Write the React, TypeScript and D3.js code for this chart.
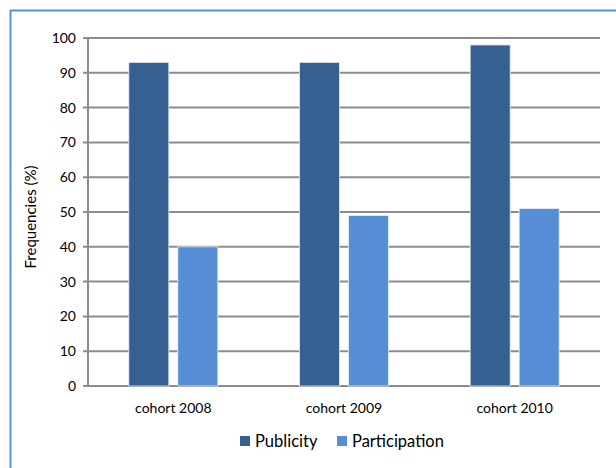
import React from "react";
import * as d3 from "d3";

const categories = ["cohort 2008", "cohort 2009", "cohort 2010"];
const publicity = [93, 93, 98];
const participation = [40, 49, 51];
const seriesNames = ["Publicity", "Participation"];
const yTicks = [0, 10, 20, 30, 40, 50, 60, 70, 80, 90, 100];

const colors = ["#366092", "#558ed5"];
const FONT = "Lato, 'Open Sans', sans-serif";

export default function App() {
  const W = 616, H = 468;
  const left = 88, right = 600, top = 38, bottom = 386;
  const x = d3.scaleBand<string>().domain(categories).range([left, right]).paddingInner(0).paddingOuter(0);
  const y = d3.scaleLinear().domain([0, 100]).range([bottom, top]);
  const barW = 40, gap = 9;
  const series = [publicity, participation];
  return (
    <svg width={W} height={H} style={{ position: "absolute", left: 0, top: 0 }}>
      <rect x={0} y={0} width={W} height={H} fill="#fff" />
      <line x1={10.5} y1={10} x2={10.5} y2={H} stroke="#4f97d6" strokeWidth={2} />
      <line x1={10} y1={10.5} x2={W} y2={10.5} stroke="#4f97d6" strokeWidth={2} />
      {yTicks.map((t) => (
        <g key={t}>
          <line x1={left - 5} x2={right} y1={y(t)} y2={y(t)} stroke="#8c8c8c" strokeWidth={2} />
          <text x={76} y={y(t)} dy="0.35em" textAnchor="end" fontFamily={FONT} fontSize={14} fill="#000">{t}</text>
        </g>
      ))}
      <line x1={left} x2={left} y1={top} y2={bottom + 1} stroke="#8c8c8c" strokeWidth={2} />
      {categories.map((c, i) => {
        const cx = x(c)! + x.bandwidth() / 2;
        return (
          <g key={c}>
            {series.map((s, j) => {
              const bx = cx - barW - gap / 2 + j * (barW + gap);
              return (
                <rect key={j} x={bx} y={y(s[i])} width={barW} height={bottom - y(s[i])} fill={colors[j]} stroke="#e8eef6" strokeWidth={0.8} />
              );
            })}
            <text x={cx} y={408} dy="0.35em" textAnchor="middle" fontFamily={FONT} fontSize={14} fill="#000">{c}</text>
          </g>
        );
      })}
      <text transform={`translate(31,${(top + bottom) / 2 + 5}) rotate(-90)`} textAnchor="middle" dy="0.35em" fontFamily={FONT} fontSize={15} fill="#000">Frequencies (%)</text>
      {seriesNames.map((n, j) => {
        const lx = j === 0 ? 240 : 337;
        return (
          <g key={n}>
            <rect x={lx} y={436} width={10} height={10} fill={colors[j]} />
            <text x={lx + 15} y={441} dy="0.35em" fontFamily={FONT} fontSize={16.5} fill="#000">{n}</text>
          </g>
        );
      })}
    </svg>
  );
}
